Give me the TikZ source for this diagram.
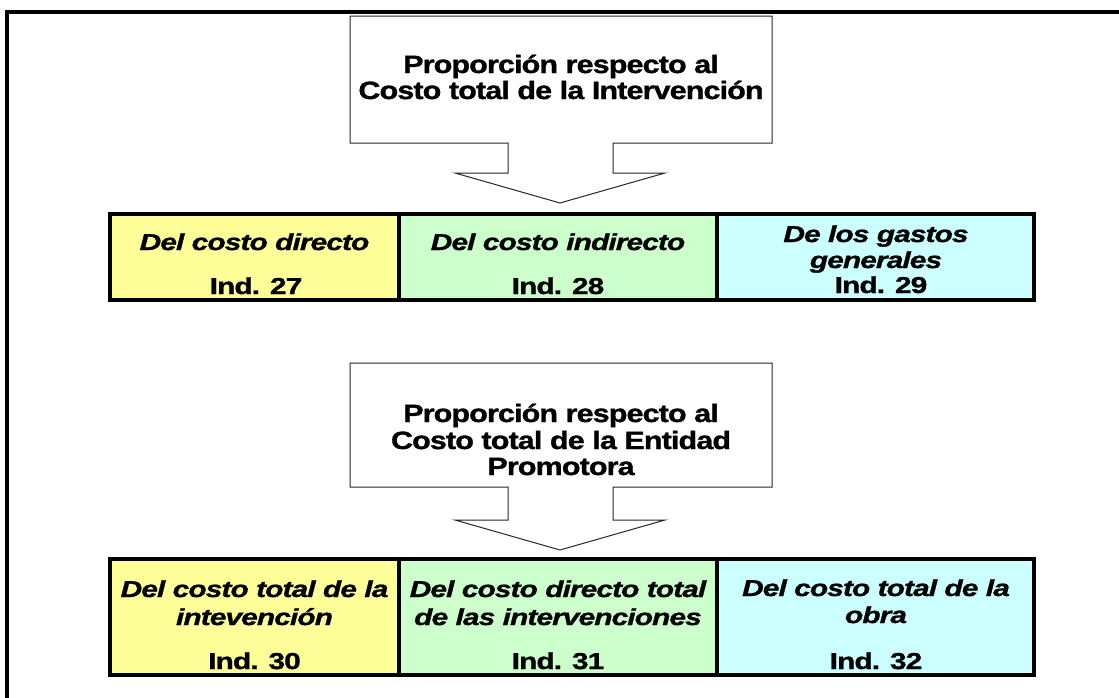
\documentclass[tikz,border=0pt]{standalone}
\usepackage{fontspec}
\setmainfont{Liberation Sans}
\newfontfamily\tfont[FakeStretch=1.22,LetterSpace=-3.5,FakeBold=1.2]{Liberation Sans}
\newfontfamily\cfont[FakeStretch=1.3,LetterSpace=-4,FakeBold=1.2]{Liberation Sans}
\definecolor{cy}{HTML}{FFFF99}
\definecolor{cg}{HTML}{CCFFCC}
\definecolor{cc}{HTML}{CCFFFF}
\begin{document}
\begin{tikzpicture}[x=1pt,y=-1pt,
  frameline/.style={line width=4pt},
  callout/.style={draw=black!85, line width=1pt, fill=white, line join=miter},
  cell/.style={draw=black, line width=4pt, inner sep=0pt, minimum height=86pt},
  cellB/.style={draw=black, line width=4pt, inner sep=0pt, minimum height=116pt},
  ttext/.style={anchor=base, inner sep=0pt, font=\tfont\bfseries\fontsize{25}{30}\selectfont},
  ctext/.style={anchor=base, inner sep=0pt, font=\cfont\bfseries\itshape\fontsize{23}{27}\selectfont},
  itext/.style={anchor=base, inner sep=0pt, font=\cfont\bfseries\fontsize{23}{27}\selectfont}
]
\useasboundingbox (0,0) rectangle (1119,697);
% outer frame (top and left)
\coordinate (fa) at (7,699);
\coordinate (fb) at (7,12);
\coordinate (fc) at (1121,12);
\draw[frameline] (fa) -- (fb) -- (fc);

% callout 1
\draw[callout] (350,16) -- (772,16) -- (772,143) -- (613,143) -- (613,173) -- (665,173)
  -- (560,203) -- (455,173) -- (508,173) -- (508,143) -- (350,143) -- cycle;
\node[ttext] (t1a) at (561,73) {Proporción respecto al};
\node[ttext] (t1b) at (561,99) {Costo total de la Intervención};

% callout 2
\draw[callout] (350,363) -- (772,363) -- (772,487) -- (613,487) -- (613,520) -- (665,520)
  -- (560,550) -- (455,520) -- (508,520) -- (508,487) -- (350,487) -- cycle;
\node[ttext] (t2a) at (561,422) {Proporción respecto al};
\node[ttext] (t2b) at (561,449) {Costo total de la Entidad};
\node[ttext] (t2c) at (561,475) {Promotora};

% row 1
\node[cell, fill=cy, minimum width=289pt] (c11) at (254.5,257) {};
\node[cell, fill=cg, minimum width=318pt] (c12) at (558,257) {};
\node[cell, fill=cc, minimum width=317pt] (c13) at (875.5,257) {};
\node[ctext] (c11a) at (254.5,250) {Del costo directo};
\node[itext] (c11b) at (256,294) {Ind. 27};
\node[ctext] (c12a) at (558,250) {Del costo indirecto};
\node[itext] (c12b) at (558,294) {Ind. 28};
\node[ctext] (c13a) at (876,242) {De los gastos};
\node[ctext] (c13b) at (876,268) {generales};
\node[itext] (c13c) at (881,293) {Ind. 29};

% row 2
\node[cellB, fill=cy, minimum width=289pt] (c21) at (254.5,617) {};
\node[cellB, fill=cg, minimum width=318pt] (c22) at (558,617) {};
\node[cellB, fill=cc, minimum width=317pt] (c23) at (875.5,617) {};
\node[ctext] (c21a) at (254.5,597) {Del costo total de la};
\node[ctext] (c21b) at (254.5,625) {intevención};
\node[itext] (c21c) at (254.5,669) {Ind. 30};
\node[ctext] (c22a) at (558,597) {Del costo directo total};
\node[ctext] (c22b) at (558,625) {de las intervenciones};
\node[itext] (c22c) at (558,669) {Ind. 31};
\node[ctext] (c23a) at (876,596) {Del costo total de la};
\node[ctext] (c23b) at (876,623) {obra};
\node[itext] (c23c) at (876,669) {Ind. 32};
\end{tikzpicture}
\end{document}
